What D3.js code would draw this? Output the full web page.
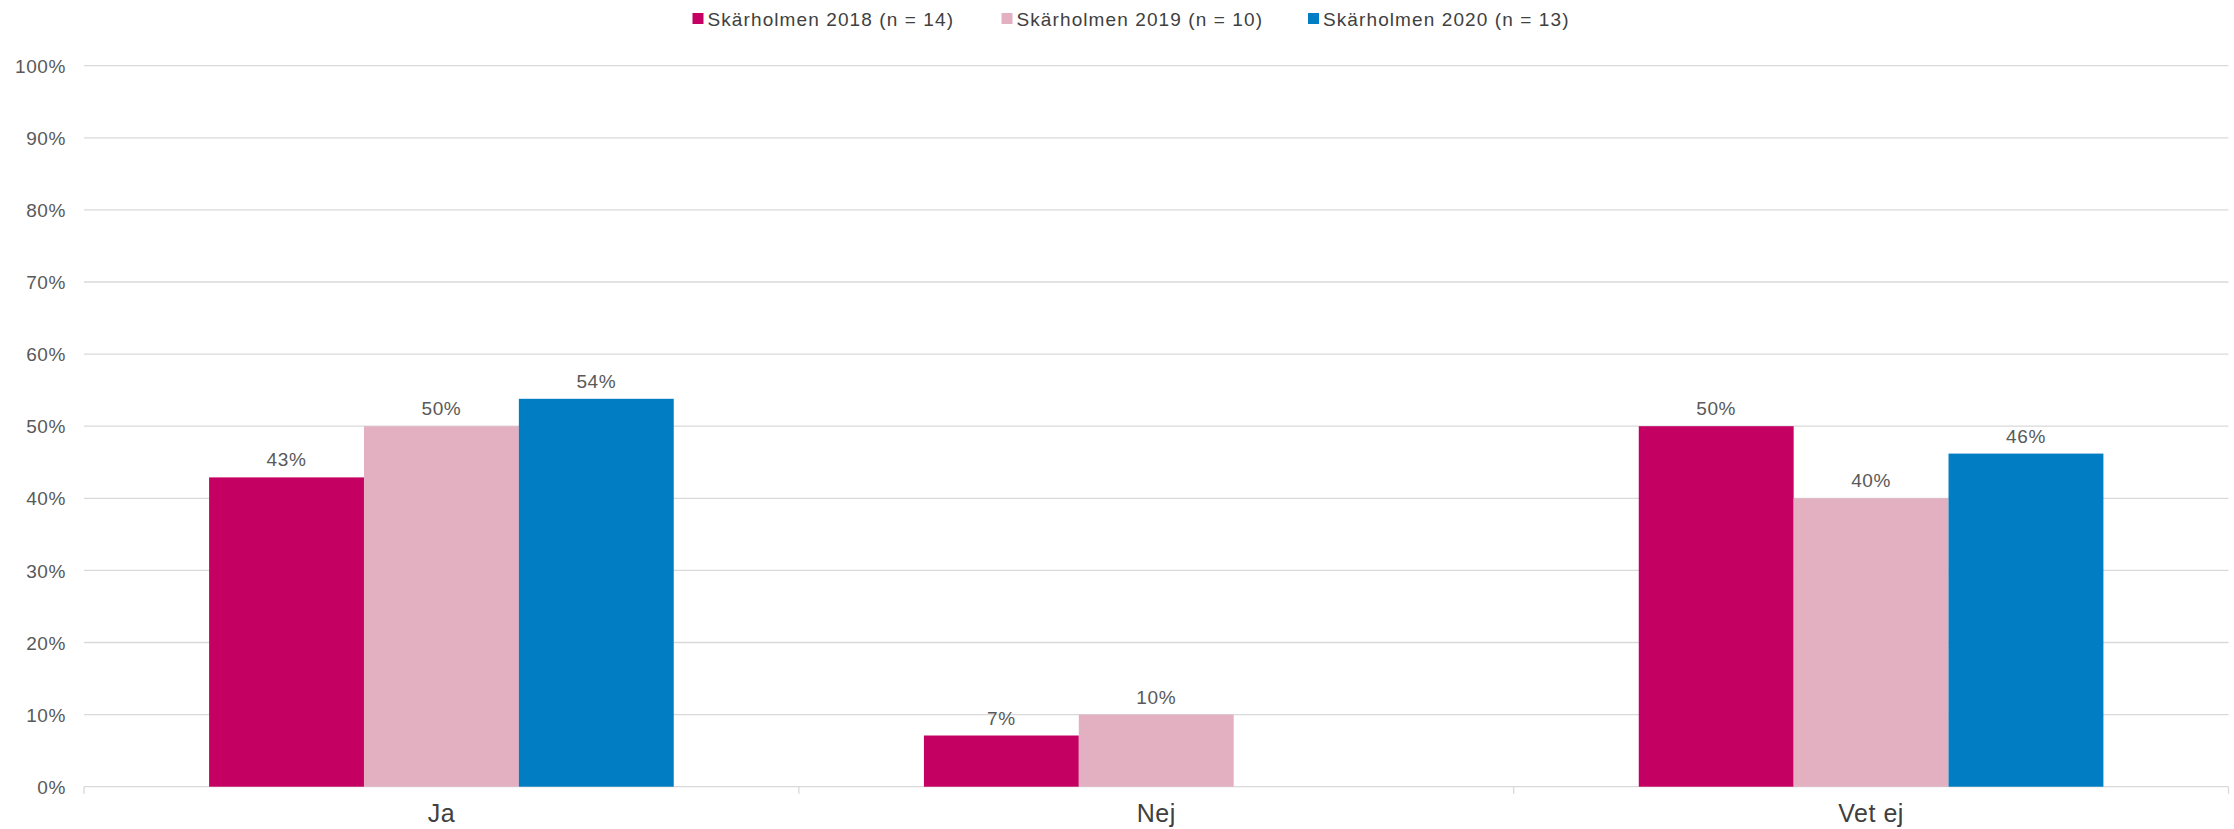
<!DOCTYPE html>
<html><head><meta charset="utf-8">
<script src="https://cdn.jsdelivr.net/npm/d3@7"></script>
<style>
html,body{margin:0;padding:0;background:#fff;}
text{font-family:"Liberation Sans",Arial,sans-serif;}
</style></head>
<body>
<svg id="chart" width="2234" height="829"></svg>
<script>
const categories = ["Ja", "Nej", "Vet ej"];
const seriesNames = ["Skärholmen 2018 (n = 14)", "Skärholmen 2019 (n = 10)", "Skärholmen 2020 (n = 13)"];
const values2018 = [42.9, 7.1, 50.0];
const values2019 = [50.0, 10.0, 40.0];
const values2020 = [53.8, 0, 46.2];
const seriesColors = ["#c40062", "#e2b0c1", "#007dc3"];
const yTicks = [0, 10, 20, 30, 40, 50, 60, 70, 80, 90, 100];

(function () {
const seriesValues = [values2018, values2019, values2020];
const svg = d3.select("#chart");
const mLeft = 84, mRight = 2228.5, mTop = 65.7, mBottom = 786.7;
const textColor = "#595959", gridColor = "#d9d9d9";

const y = d3.scaleLinear().domain([0, 100]).range([mBottom, mTop]);
const x0 = d3.scaleBand().domain(categories).range([mLeft, mRight]).paddingInner(0.35).paddingOuter(0.175);
const x1 = d3.scaleBand().domain(d3.range(seriesNames.length)).range([0, x0.bandwidth()]);

// gridlines
svg.append("g").selectAll("line").data(yTicks).join("line")
  .attr("x1", mLeft).attr("x2", mRight)
  .attr("y1", d => y(d)).attr("y2", d => y(d))
  .attr("stroke", gridColor).attr("stroke-width", 1.3);

// y axis labels
const yAxis = d3.axisLeft(y).tickValues(yTicks).tickFormat(d => d + "%").tickSize(0).tickPadding(18);
const yg = svg.append("g").attr("transform", `translate(${mLeft},0)`).call(yAxis);
yg.select(".domain").remove();
yg.selectAll("text").attr("fill", textColor).style("font-size", "19px").style("letter-spacing", "0.6px")
  .style("font-family", "'Liberation Sans', Arial, sans-serif")
  .attr("dy", "0.35em");

// x axis
const xBoundaries = d3.range(categories.length + 1).map(i => mLeft + i * x0.step());
svg.append("g").selectAll("line").data(xBoundaries).join("line")
  .attr("x1", d => d).attr("x2", d => d).attr("y1", mBottom).attr("y2", mBottom + 7)
  .attr("stroke", gridColor).attr("stroke-width", 1.3);
const xAxis = d3.axisBottom(x0).tickSize(0).tickPadding(0);
const xg = svg.append("g").attr("transform", `translate(0,${mBottom})`).call(xAxis);
xg.select(".domain").remove();
xg.selectAll("text").attr("fill", "#404040").style("font-size", "25px").style("letter-spacing", "0.5px")
  .style("font-family", "'Liberation Sans', Arial, sans-serif")
  .attr("y", 35).attr("dy", 0);

// bars
const groups = svg.append("g").selectAll("g").data(categories).join("g")
  .attr("transform", d => `translate(${x0(d)},0)`);
groups.selectAll("rect").data((c, ci) => seriesValues.map((vals, si) => ({si, v: vals[ci]})))
  .join("rect")
  .attr("x", d => x1(d.si)).attr("width", x1.bandwidth())
  .attr("y", d => y(d.v)).attr("height", d => y(0) - y(d.v))
  .attr("fill", d => seriesColors[d.si]);
groups.selectAll("text").data((c, ci) => seriesValues.map((vals, si) => ({si, v: vals[ci]})).filter(d => d.v > 0))
  .join("text")
  .attr("x", d => x1(d.si) + x1.bandwidth() / 2).attr("y", d => y(d.v) - 11)
  .attr("text-anchor", "middle").attr("fill", textColor)
  .style("font-size", "19px").style("letter-spacing", "0.6px")
  .text(d => Math.round(d.v) + "%");

// legend
const legendX = [692.5, 1001.5, 1308];
const lg = svg.append("g").selectAll("g").data(seriesNames).join("g")
  .attr("transform", (d, i) => `translate(${legendX[i]},0)`);
lg.append("rect").attr("x", 0).attr("y", 13).attr("width", 11).attr("height", 11)
  .attr("fill", (d, i) => seriesColors[i]);
lg.append("text").attr("x", 15).attr("y", 25.5).attr("fill", "#404040")
  .style("font-size", "19px").style("letter-spacing", "1.1px").text(d => d);
})();
</script>
</body></html>
